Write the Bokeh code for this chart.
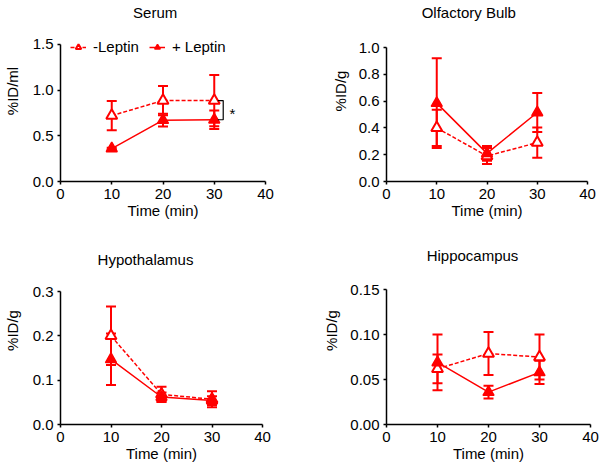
from bokeh.plotting import figure
from bokeh.layouts import column, row
from bokeh.models import (Range1d, FixedTicker, Whisker, TeeHead, ColumnDataSource,
                          Label, Legend, LegendItem)
from bokeh.core.properties import value
from bokeh.embed import file_html
from bokeh.resources import INLINE

# ---------------- data ----------------
time_min = [10, 20, 30]
x_ticks = [0, 10, 20, 30, 40]

serum_minus = [0.72, 0.885, 0.885]
serum_minus_sem = [0.16, 0.16, 0.28]
serum_plus = [0.36, 0.67, 0.675]
serum_plus_sem = [0.01, 0.07, 0.10]

olf_minus = [0.40, 0.19, 0.29]
olf_minus_sem = [0.135, 0.06, 0.113]
olf_plus = [0.585, 0.21, 0.515]
olf_plus_sem = [0.335, 0.055, 0.145]

hypo_minus = [0.200, 0.068, 0.057]
hypo_minus_sem = [0.066, 0.017, 0.018]
hypo_plus = [0.147, 0.062, 0.054]
hypo_plus_sem = [0.058, 0.010, 0.010]

hippo_minus = [0.062, 0.079, 0.075]
hippo_minus_sem = [0.016, 0.024, 0.025]
hippo_plus = [0.069, 0.036, 0.058]
hippo_plus_sem = [0.031, 0.007, 0.013]

serum_yticks = [0.0, 0.5, 1.0, 1.5]
serum_ylabels = ["0.0", "0.5", "1.0", "1.5"]
olf_yticks = [0.0, 0.2, 0.4, 0.6, 0.8, 1.0]
olf_ylabels = ["0.0", "0.2", "0.4", "0.6", "0.8", "1.0"]
hypo_yticks = [0.0, 0.1, 0.2, 0.3]
hypo_ylabels = ["0.0", "0.1", "0.2", "0.3"]
hippo_yticks = [0.0, 0.05, 0.10, 0.15]
hippo_ylabels = ["0.00", "0.05", "0.10", "0.15"]

series_names = ["-Leptin", "+ Leptin"]

RED = "#FF0000"
FONT = "Liberation Sans"
FS = "15px"


def make_panel(title, ylabel, yticks, ylabels, minus, minus_sem, plus, plus_sem,
               geom, title_pos, ylab_standoff, legend=False, bracket=False):
    # geom: figure width, height, left border, right border, bottom border,
    #       distance from figure top to the top of the y axis
    width, height, left, right, bottom, axis_top = geom
    frame_h = height - bottom
    data_h = frame_h - axis_top
    ymax = yticks[-1]
    y_end = ymax * frame_h / data_h
    p = figure(width=width, height=height, output_backend="svg", toolbar_location=None,
               title=None,
               x_range=Range1d(x_ticks[0], x_ticks[-1]), y_range=Range1d(yticks[0], y_end),
               min_border_left=left, min_border_right=right, min_border_top=0,
               min_border_bottom=bottom)
    p.outline_line_color = None
    p.grid.visible = False
    p.background_fill_color = "white"
    p.border_fill_color = "white"

    for ax in (p.xaxis[0], p.yaxis[0]):
        ax.axis_line_width = 1.5
        ax.axis_line_color = "black"
        ax.major_tick_line_width = 1.5
        ax.major_tick_line_color = "black"
        ax.major_tick_out = 3
        ax.major_tick_in = 0
        ax.minor_tick_line_color = None
        ax.major_label_text_font = FONT
        ax.major_label_text_font_size = FS
        ax.major_label_text_color = "black"
        ax.axis_label_text_font = FONT
        ax.axis_label_text_font_size = FS
        ax.axis_label_text_font_style = "normal"
        ax.axis_label_text_color = "black"
        ax.major_label_standoff = 4

    p.xaxis.ticker = FixedTicker(ticks=x_ticks)
    p.xaxis.major_label_overrides = {t: str(t) for t in x_ticks}
    p.xaxis.axis_label = "Time (min)"
    p.xaxis.axis_label_standoff = 0

    p.yaxis.ticker = FixedTicker(ticks=yticks)
    p.yaxis.major_label_overrides = {t: l for t, l in zip(yticks, ylabels)}
    p.yaxis.axis_label = ylabel
    p.yaxis.axis_label_standoff = ylab_standoff
    p.yaxis.bounds = (yticks[0], ymax)

    src_m = ColumnDataSource(dict(t=time_min, y=minus,
                                  lo=[m - s for m, s in zip(minus, minus_sem)],
                                  up=[m + s for m, s in zip(minus, minus_sem)]))
    src_p = ColumnDataSource(dict(t=time_min, y=plus,
                                  lo=[m - s for m, s in zip(plus, plus_sem)],
                                  up=[m + s for m, s in zip(plus, plus_sem)]))

    lm = p.line("t", "y", source=src_m, line_color=RED, line_width=1.5, line_dash="4 2")
    lp = p.line("t", "y", source=src_p, line_color=RED, line_width=1.5)

    for src in (src_m, src_p):
        w = Whisker(source=src, base="t", upper="up", lower="lo", line_color=RED, line_width=2,
                    upper_head=TeeHead(size=10, line_color=RED, line_width=2),
                    lower_head=TeeHead(size=10, line_color=RED, line_width=2))
        p.add_layout(w)

    sm = p.scatter("t", "y", source=src_m, marker="triangle", size=11,
                   fill_color="white", line_color=RED, line_width=2)
    sp = p.scatter("t", "y", source=src_p, marker="triangle", size=11,
                   fill_color=RED, line_color=RED, line_width=1.5)

    tx, ty = title_pos
    p.add_layout(Label(x=tx, y=ty, x_units="screen", y_units="screen", text=title,
                       text_font=FONT, text_font_size=FS, text_align="center",
                       text_baseline="alphabetic", text_color="black"))

    if legend:
        leg = Legend(items=[LegendItem(label=series_names[0], renderers=[lm, sm]),
                            LegendItem(label=series_names[1], renderers=[lp, sp])],
                     location=(10, 126), orientation="horizontal",
                     glyph_width=16, glyph_height=14, label_height=14,
                     label_standoff=7, spacing=10, padding=0, margin=0,
                     border_line_color=None, background_fill_alpha=0,
                     label_text_font=FONT, label_text_font_size=FS,
                     label_text_color="black")
        p.add_layout(leg)

    if bracket:
        bx = time_min[-1] + 1.75
        bl = time_min[-1] + 0.7
        ytop = minus[-1]
        ybot = plus[-1]
        p.line([bl, bx, bx, bl], [ytop, ytop, ybot, ybot], line_color="black", line_width=1.2)
        p.text(x=[bx + 1.8], y=[(ytop + ybot) / 2], text=["*"], text_font=value(FONT),
               text_font_size=FS, text_align="center", text_baseline="middle",
               text_color="black", y_offset=3)
    return p


p1 = make_panel("Serum", "%ID/ml", serum_yticks, serum_ylabels,
                serum_minus, serum_minus_sem, serum_plus, serum_plus_sem,
                (302, 236, 60, 37, 54, 44), (94.7, 168.7), 9, legend=True, bracket=True)
p2 = make_panel("Olfactory Bulb", "%ID/g", olf_yticks, olf_ylabels,
                olf_minus, olf_minus_sem, olf_plus, olf_plus_sem,
                (302, 236, 84, 17, 55, 47), (82.3, 169), 7)
p3 = make_panel("Hypothalamus", "%ID/g", hypo_yticks, hypo_ylabels,
                hypo_minus, hypo_minus_sem, hypo_plus, hypo_plus_sem,
                (302, 239, 60, 40, 51, 55), (85, 165), 9)
p4 = make_panel("Hippocampus", "%ID/g", hippo_yticks, hippo_ylabels,
                hippo_minus, hippo_minus_sem, hippo_plus, hippo_plus_sem,
                (302, 239, 84, 14, 48, 54), (86, 169.5), 7)

layout = column(row(p1, p2), row(p3, p4))

open("out.html", "w").write(file_html(layout, INLINE))
